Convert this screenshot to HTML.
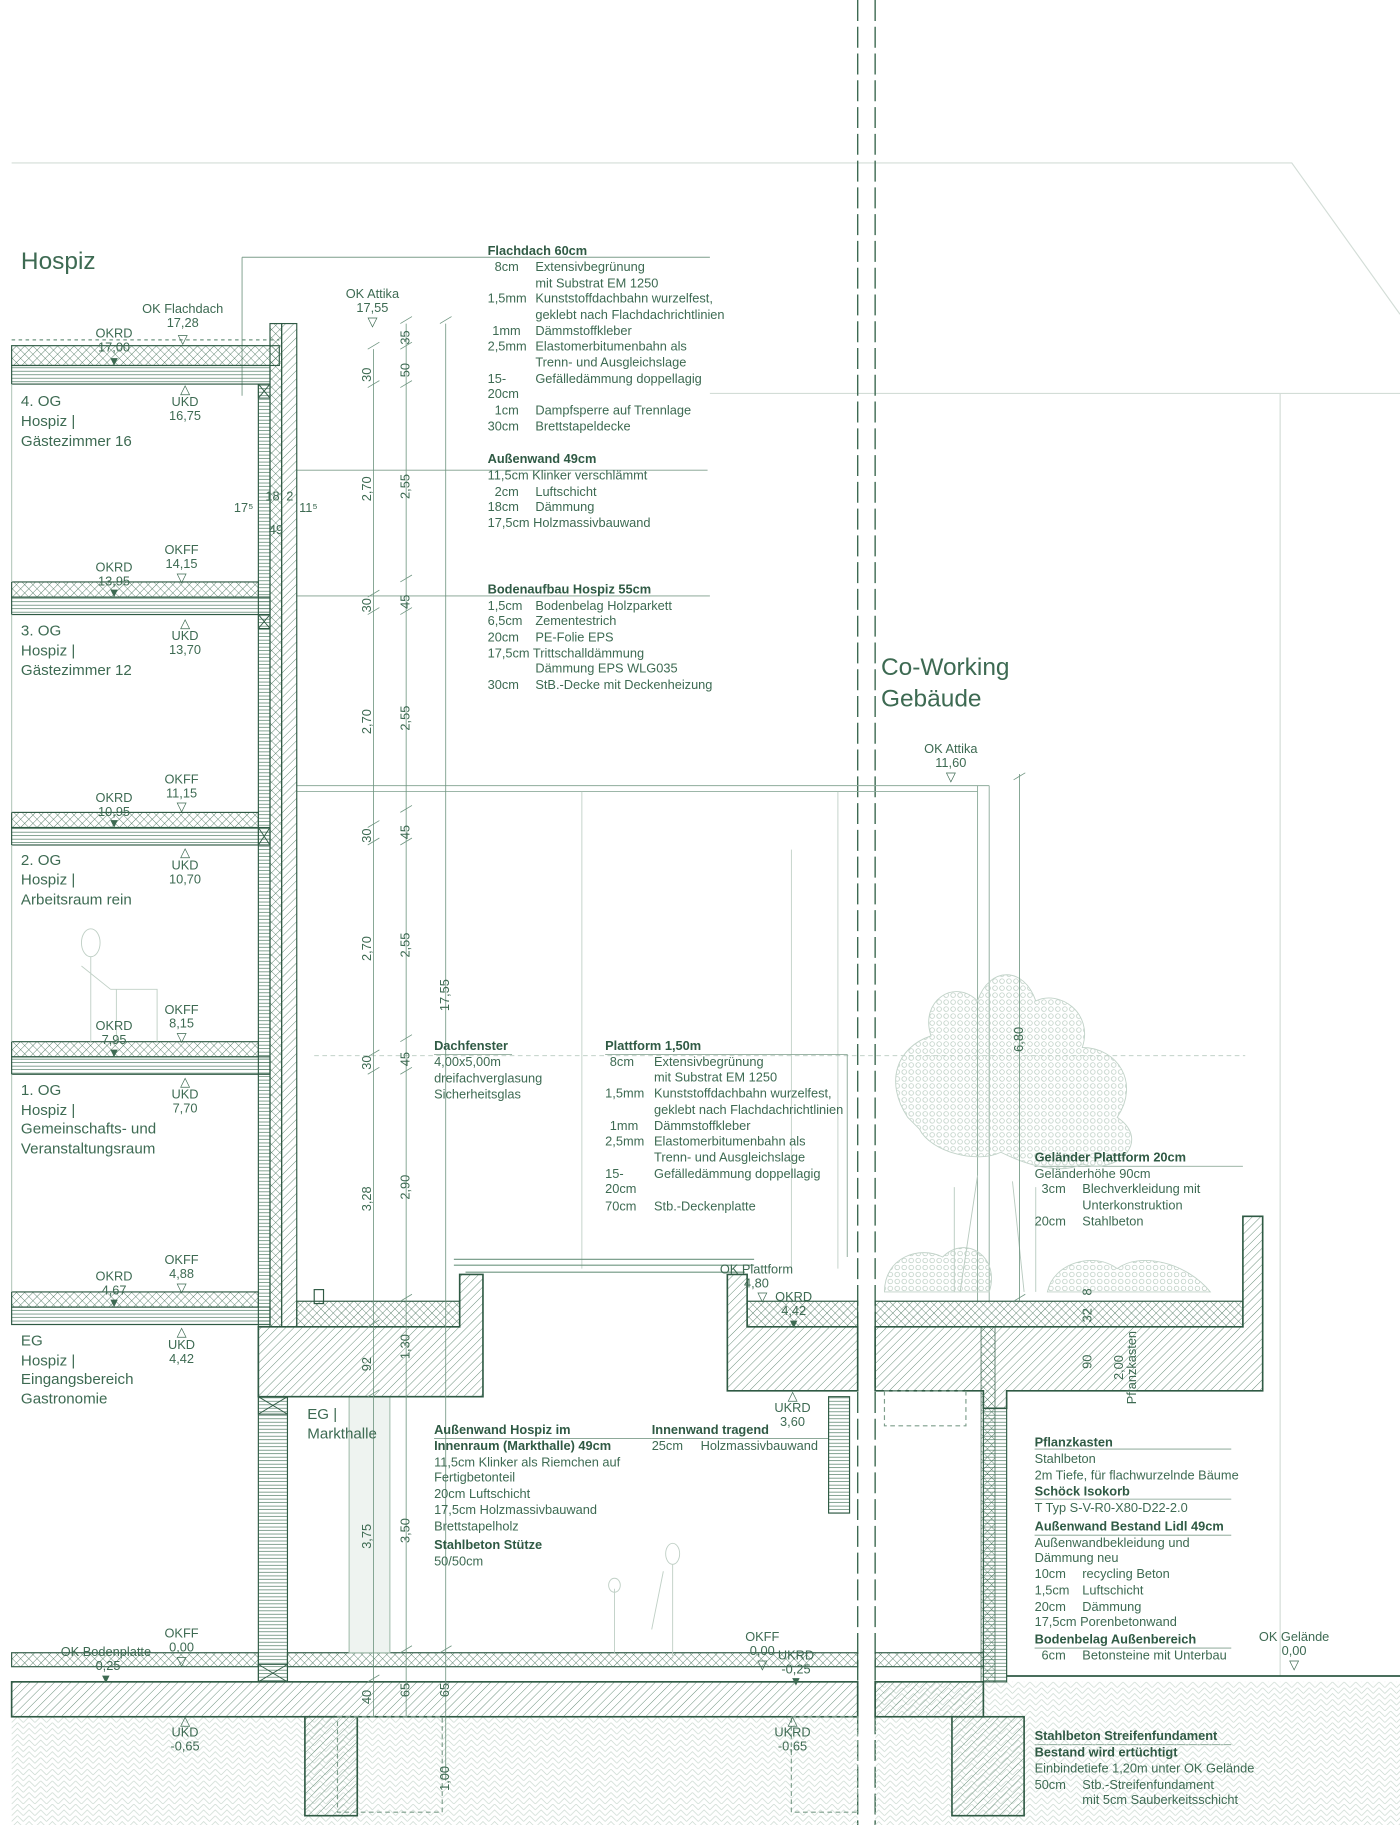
<!DOCTYPE html>
<html><head><meta charset="utf-8"><style>
html,body{margin:0;padding:0;background:#fff}
svg{display:block}
text{font-family:"Liberation Sans",sans-serif;fill:#3d6a52;font-size:11px}
.b{font-weight:bold;fill:#2f5a44}
.c{text-anchor:middle}
.big{font-size:21px;fill:#3d6a52}
.lvl{font-size:13px}
</style></head><body>
<svg width="1400" height="1825" viewBox="0 0 1203 1568" preserveAspectRatio="none" xmlns="http://www.w3.org/2000/svg">
<defs>
<pattern id="dg" width="5" height="5" patternUnits="userSpaceOnUse" patternTransform="rotate(45)"><line x1="0" y1="0" x2="0" y2="5" stroke="#4d7a62" stroke-width="0.7"/></pattern>
<pattern id="xh" width="5" height="5" patternUnits="userSpaceOnUse" patternTransform="rotate(45)"><path d="M0 0V5M0 0H5" stroke="#3d6a52" stroke-width="0.7"/></pattern>
<pattern id="hz" width="4" height="3" patternUnits="userSpaceOnUse"><line x1="0" y1="1" x2="4" y2="1" stroke="#4d7a62" stroke-width="0.6"/></pattern>
<pattern id="gr" width="10" height="10" patternUnits="userSpaceOnUse"><path d="M0 5L5 0L10 5M0 10L5 5L10 10" stroke="#c9d8cf" stroke-width="0.6" fill="none"/></pattern>
<pattern id="lf" width="6" height="6" patternUnits="userSpaceOnUse"><circle cx="3" cy="3" r="2" stroke="#b5c9bd" stroke-width="0.6" fill="none"/></pattern>
</defs>
<g fill="none" stroke="#2f5a44">
<path d="M10 140H1110L1203 270" stroke="#d3ddd7" stroke-width="1"/>
<path d="M610 338H1203M1100 338V1440" stroke="#d3ddd7"/>
<path d="M737 0V1568M752 0V1568" stroke="#3d6a52" stroke-width="1.2" stroke-dasharray="18,5"/>
<path d="M208 221H610M208 221V340" stroke="#7d9d8b" stroke-width="0.8"/>
<path d="M255 404H608M255 512H610" stroke="#7d9d8b" stroke-width="0.8"/>
<path d="M255 675H850M255 680H840M840 675V1118M850 675V1118" stroke="#8fac9c" stroke-width="0.8"/>
<path d="M500 680V1090M680 730V1090M720 680V1090" stroke="#b9cbc0" stroke-width="0.7"/>
<path d="M270 907H1070" stroke="#b9cbc0" stroke-dasharray="4,3" stroke-width="0.7"/>
<path d="M373 906H440M520 906H728V1080M889 1002H1068M889 1245H1058M889 1288H1058M889 1319H1058M889 1416H1058M889 1499H1058M373 1236H560M560 1236H712" stroke="#7d9d8b" stroke-width="0.7"/>
<rect x="10" y="1475" width="727" height="93" fill="url(#gr)" stroke="none"/>
<rect x="752" y="1445" width="451" height="123" fill="url(#gr)" stroke="none"/>
<path d="M865 1440H1203" stroke-width="1.5"/>
<!-- tree -->
<g fill="url(#lf)" stroke="#c2d3c9" stroke-width="0.8">
<path d="M780 960C760 930 770 900 800 890C790 860 820 840 840 860C850 830 880 830 890 860C910 850 940 870 930 900C960 900 980 930 960 960C990 980 960 1010 930 1000C910 1010 880 1000 860 990C840 1000 800 990 790 970Z"/>
<path d="M760 1110C760 1080 790 1070 810 1080C830 1060 860 1080 850 1110Z"/>
<path d="M900 1110C905 1085 940 1075 960 1090C980 1075 1020 1085 1040 1110Z"/>
</g>
<path d="M820 1110V1020M825 1110L840 1010M890 1110V1020M880 1110L870 1015" stroke="#b9cbc0" stroke-width="0.8"/>
<g stroke-width="1">
<rect x="10" y="297" width="230" height="17" fill="url(#xh)"/>
<rect x="10" y="314" width="222" height="16" fill="url(#hz)"/>
<path d="M10 292H240" stroke="#6f9580" stroke-dasharray="3,3"/>
<rect x="10" y="500" width="212" height="13" fill="url(#xh)"/>
<rect x="10" y="513" width="222" height="15" fill="url(#hz)"/>
<rect x="10" y="698" width="212" height="13" fill="url(#xh)"/>
<rect x="10" y="711" width="222" height="15" fill="url(#hz)"/>
<rect x="10" y="895" width="212" height="13" fill="url(#xh)"/>
<rect x="10" y="908" width="222" height="15" fill="url(#hz)"/>
<rect x="10" y="1110" width="212" height="13" fill="url(#xh)"/>
<rect x="10" y="1123" width="222" height="15" fill="url(#hz)"/>
<rect x="222" y="330" width="10" height="810" fill="url(#hz)"/>
<rect x="232" y="278" width="10" height="862" fill="url(#xh)"/>
<rect x="242" y="278" width="13" height="862" fill="url(#dg)"/>
<path d="M222 330h10v12h-10zM222 330l10 12M232 330l-10 12M222 528h10v12h-10zM222 528l10 12M232 528l-10 12M222 711h10v15h-10zM222 711l10 15M232 711l-10 15" stroke-width="0.8"/>
<path d="M10 330V500M10 528V698M10 726V895M10 923V1110" stroke="#b9cbc0"/>
<rect x="247" y="1420" width="490" height="12" fill="url(#xh)"/>
<rect x="10" y="1420" width="212" height="12" fill="url(#xh)"/>
<rect x="10" y="1445" width="727" height="30" fill="url(#dg)" stroke-width="1.4"/>
<rect x="262" y="1475" width="45" height="85" fill="url(#dg)" stroke-width="1.4"/>
<rect x="290" y="1475" width="90" height="82" stroke="#7d9d8b" stroke-dasharray="4,3" fill="none"/>
<rect x="680" y="1475" width="57" height="82" stroke="#7d9d8b" stroke-dasharray="4,3" fill="none"/>
<rect x="222" y="1200" width="25" height="245" fill="url(#hz)"/>
<path d="M222 1200h25v15h-25zM222 1200l25 15M247 1200l-25 15M222 1430h25v15h-25zM222 1430l25 15M247 1430l-25 15" stroke-width="0.8"/>
<rect x="300" y="1200" width="35" height="220" fill="#eef3f0" stroke="#a9c2b3"/>
<rect x="712" y="1200" width="18" height="100" fill="url(#hz)"/>
<path d="M222 1140H395V1095H415V1200H222Z" fill="url(#dg)" stroke-width="1.4"/>
<rect x="255" y="1118" width="140" height="22" fill="url(#xh)"/>
<rect x="270" y="1108" width="8" height="12" fill="none"/>
<path d="M625 1095H642V1140H737V1195H625Z" fill="url(#dg)" stroke-width="1.4"/>
<rect x="642" y="1118" width="95" height="22" fill="url(#xh)"/>
<path d="M390 1082H648M390 1087H648M400 1093H640" stroke="#6f9580"/>
<path d="M752 1140H1068V1045H1085V1195H865V1210H845V1195H752Z" fill="url(#dg)" stroke-width="1.4"/>
<rect x="752" y="1118" width="316" height="22" fill="url(#xh)"/>
<rect x="843" y="1140" width="12" height="305" fill="url(#xh)" stroke-width="0.6"/>
<rect x="845" y="1210" width="20" height="235" fill="url(#hz)"/>
<rect x="752" y="1420" width="93" height="12" fill="url(#xh)"/>
<rect x="752" y="1445" width="93" height="30" fill="url(#dg)" stroke-width="1.4"/>
<rect x="818" y="1475" width="62" height="85" fill="url(#dg)" stroke-width="1.4"/>
<rect x="760" y="1195" width="70" height="30" stroke="#7d9d8b" stroke-dasharray="4,3"/>
</g>
<g stroke="#c0d0c6" fill="none" stroke-width="0.8"><ellipse cx="78" cy="810" rx="8" ry="12"/><path d="M78 822V895M70 830L95 850M95 850H135V895M100 850V895"/><ellipse cx="578" cy="1335" rx="6" ry="9"/><path d="M578 1344V1425M570 1350L560 1400M528 1365V1420"/><ellipse cx="528" cy="1362" rx="5" ry="6"/></g>
<g stroke="#6f9580" stroke-width="0.7">
<path d="M321 300V1475M349 278V1475M383 278V1530M876 665V1118"/>
<path d="M316 300l10-6M316 333l10-6M316 513l10-6M316 528l10-6M316 711l10-6M316 726l10-6M316 908l10-6M316 923l10-6M316 1140l10-6M316 1200l10-6M316 1445l10-6M344 278l10-6M344 300l10-6M344 333l10-6M344 500l10-6M344 528l10-6M344 698l10-6M344 726l10-6M344 895l10-6M344 923l10-6M344 1118l10-6M344 1420l10-6M378 278l10-6M378 1420l10-6M871 670l10-6M871 1118l10-6"/>
</g>
</g>
<text x="18" y="231" class="big">Hospiz</text>
<text x="757" y="580" class="big">Co-Working</text>
<text x="757" y="607" class="big">Gebäude</text>
<g>
<text x="419" y="219" class="b">Flachdach 60cm</text>
<text x="425" y="233">8cm</text><text x="460" y="233">Extensivbegrünung</text>
<text x="460" y="247">mit Substrat EM 1250</text>
<text x="419" y="260">1,5mm</text><text x="460" y="260">Kunststoffdachbahn wurzelfest,</text>
<text x="460" y="274">geklebt nach Flachdachrichtlinien</text>
<text x="423" y="288">1mm</text><text x="460" y="288">Dämmstoffkleber</text>
<text x="419" y="301">2,5mm</text><text x="460" y="301">Elastomerbitumenbahn als</text>
<text x="460" y="315">Trenn- und Ausgleichslage</text>
<text x="419" y="329">15-</text><text x="460" y="329">Gefälledämmung doppellagig</text>
<text x="419" y="342">20cm</text>
<text x="425" y="356">1cm</text><text x="460" y="356">Dampfsperre auf Trennlage</text>
<text x="419" y="370">30cm</text><text x="460" y="370">Brettstapeldecke</text>
<text x="419" y="398" class="b">Außenwand 49cm</text>
<text x="419" y="412">11,5cm Klinker verschlämmt</text>
<text x="425" y="426">2cm</text><text x="460" y="426">Luftschicht</text>
<text x="419" y="439">18cm</text><text x="460" y="439">Dämmung</text>
<text x="419" y="453">17,5cm Holzmassivbauwand</text>
<text x="419" y="510" class="b">Bodenaufbau Hospiz 55cm</text>
<text x="419" y="524">1,5cm</text><text x="460" y="524">Bodenbelag Holzparkett</text>
<text x="419" y="537">6,5cm</text><text x="460" y="537">Zementestrich</text>
<text x="419" y="551">20cm</text><text x="460" y="551">PE-Folie EPS</text>
<text x="419" y="565">17,5cm Trittschalldämmung</text>
<text x="460" y="578">Dämmung EPS WLG035</text>
<text x="419" y="592">30cm</text><text x="460" y="592">StB.-Decke mit Deckenheizung</text>
<text x="373" y="902" class="b">Dachfenster</text>
<text x="373" y="916">4,00x5,00m</text>
<text x="373" y="930">dreifachverglasung</text>
<text x="373" y="944">Sicherheitsglas</text>
<text x="520" y="902" class="b">Plattform 1,50m</text>
<text x="524" y="916">8cm</text><text x="562" y="916">Extensivbegrünung</text>
<text x="562" y="929">mit Substrat EM 1250</text>
<text x="520" y="943">1,5mm</text><text x="562" y="943">Kunststoffdachbahn wurzelfest,</text>
<text x="562" y="957">geklebt nach Flachdachrichtlinien</text>
<text x="524" y="971">1mm</text><text x="562" y="971">Dämmstoffkleber</text>
<text x="520" y="984">2,5mm</text><text x="562" y="984">Elastomerbitumenbahn als</text>
<text x="562" y="998">Trenn- und Ausgleichslage</text>
<text x="520" y="1012">15-</text><text x="562" y="1012">Gefälledämmung doppellagig</text>
<text x="520" y="1025">20cm</text>
<text x="520" y="1040">70cm</text><text x="562" y="1040">Stb.-Deckenplatte</text>
<text x="889" y="998" class="b">Geländer Plattform 20cm</text>
<text x="889" y="1012">Geländerhöhe 90cm</text>
<text x="895" y="1025">3cm</text><text x="930" y="1025">Blechverkleidung mit</text>
<text x="930" y="1039">Unterkonstruktion</text>
<text x="889" y="1053">20cm</text><text x="930" y="1053">Stahlbeton</text>
<text x="889" y="1243" class="b">Pflanzkasten</text>
<text x="889" y="1257">Stahlbeton</text>
<text x="889" y="1271">2m Tiefe, für flachwurzelnde Bäume</text>
<text x="889" y="1285" class="b">Schöck Isokorb</text>
<text x="889" y="1299">T Typ S-V-R0-X80-D22-2.0</text>
<text x="889" y="1315" class="b">Außenwand Bestand Lidl 49cm</text>
<text x="889" y="1329">Außenwandbekleidung und</text>
<text x="889" y="1342">Dämmung neu</text>
<text x="889" y="1356">10cm</text><text x="930" y="1356">recycling Beton</text>
<text x="889" y="1370">1,5cm</text><text x="930" y="1370">Luftschicht</text>
<text x="889" y="1384">20cm</text><text x="930" y="1384">Dämmung</text>
<text x="889" y="1397">17,5cm Porenbetonwand</text>
<text x="889" y="1412" class="b">Bodenbelag Außenbereich</text>
<text x="895" y="1426">6cm</text><text x="930" y="1426">Betonsteine mit Unterbau</text>
<text x="889" y="1495" class="b">Stahlbeton Streifenfundament</text>
<text x="889" y="1509" class="b">Bestand wird ertüchtigt</text>
<text x="889" y="1523">Einbindetiefe 1,20m unter OK Gelände</text>
<text x="889" y="1537">50cm</text><text x="930" y="1537">Stb.-Streifenfundament</text>
<text x="930" y="1550">mit 5cm Sauberkeitsschicht</text>
<text x="373" y="1232" class="b">Außenwand Hospiz im</text>
<text x="373" y="1246" class="b">Innenraum (Markthalle) 49cm</text>
<text x="373" y="1260">11,5cm Klinker als Riemchen auf</text>
<text x="373" y="1273">Fertigbetonteil</text>
<text x="373" y="1287">20cm</text><text x="403" y="1287">Luftschicht</text>
<text x="373" y="1301">17,5cm Holzmassivbauwand</text>
<text x="373" y="1315">Brettstapelholz</text>
<text x="373" y="1331" class="b">Stahlbeton Stütze</text>
<text x="373" y="1345">50/50cm</text>
<text x="560" y="1232" class="b">Innenwand tragend</text>
<text x="560" y="1246">25cm</text><text x="602" y="1246">Holzmassivbauwand</text>
</g>
<g class="lvl">
<text x="18" y="349" class="lvl">4. OG</text><text x="18" y="366" class="lvl">Hospiz |</text><text x="18" y="383" class="lvl">Gästezimmer 16</text>
<text x="18" y="546" class="lvl">3. OG</text><text x="18" y="563" class="lvl">Hospiz |</text><text x="18" y="580" class="lvl">Gästezimmer 12</text>
<text x="18" y="743" class="lvl">2. OG</text><text x="18" y="760" class="lvl">Hospiz |</text><text x="18" y="777" class="lvl">Arbeitsraum rein</text>
<text x="18" y="941" class="lvl">1. OG</text><text x="18" y="958" class="lvl">Hospiz |</text><text x="18" y="974" class="lvl">Gemeinschafts- und</text><text x="18" y="991" class="lvl">Veranstaltungsraum</text>
<text x="18" y="1156" class="lvl">EG</text><text x="18" y="1173" class="lvl">Hospiz |</text><text x="18" y="1189" class="lvl">Eingangsbereich</text><text x="18" y="1206" class="lvl">Gastronomie</text>
<text x="264" y="1219" class="lvl">EG |</text><text x="264" y="1236" class="lvl">Markthalle</text>
</g>
<g class="c">
<text x="157" y="269" class="c">OK Flachdach</text><text x="157" y="281" class="c">17,28</text><text x="157" y="295" class="c">▽</text>
<text x="98" y="290" class="c">OKRD</text><text x="98" y="302" class="c">17,00</text><text x="98" y="314" class="c">▼</text>
<text x="159" y="338" class="c">△</text><text x="159" y="349" class="c">UKD</text><text x="159" y="361" class="c">16,75</text>
<text x="156" y="476" class="c">OKFF</text><text x="156" y="488" class="c">14,15</text><text x="156" y="500" class="c">▽</text>
<text x="98" y="491" class="c">OKRD</text><text x="98" y="503" class="c">13,95</text><text x="98" y="513" class="c">▼</text>
<text x="159" y="539" class="c">△</text><text x="159" y="550" class="c">UKD</text><text x="159" y="562" class="c">13,70</text>
<text x="156" y="673" class="c">OKFF</text><text x="156" y="685" class="c">11,15</text><text x="156" y="697" class="c">▽</text>
<text x="98" y="689" class="c">OKRD</text><text x="98" y="701" class="c">10,95</text><text x="98" y="711" class="c">▼</text>
<text x="159" y="736" class="c">△</text><text x="159" y="747" class="c">UKD</text><text x="159" y="759" class="c">10,70</text>
<text x="156" y="871" class="c">OKFF</text><text x="156" y="883" class="c">8,15</text><text x="156" y="895" class="c">▽</text>
<text x="98" y="885" class="c">OKRD</text><text x="98" y="897" class="c">7,95</text><text x="98" y="908" class="c">▼</text>
<text x="159" y="933" class="c">△</text><text x="159" y="944" class="c">UKD</text><text x="159" y="956" class="c">7,70</text>
<text x="156" y="1086" class="c">OKFF</text><text x="156" y="1098" class="c">4,88</text><text x="156" y="1110" class="c">▽</text>
<text x="98" y="1100" class="c">OKRD</text><text x="98" y="1112" class="c">4,67</text><text x="98" y="1123" class="c">▼</text>
<text x="156" y="1148" class="c">△</text><text x="156" y="1159" class="c">UKD</text><text x="156" y="1171" class="c">4,42</text>
<text x="156" y="1407" class="c">OKFF</text><text x="156" y="1419" class="c">0,00</text><text x="156" y="1431" class="c">▽</text>
<text x="91" y="1423" class="c">OK Bodenplatte</text><text x="91" y="1435" class="c">-0,25</text><text x="91" y="1446" class="c">▼</text>
<text x="159" y="1482" class="c">△</text><text x="159" y="1492" class="c">UKD</text><text x="159" y="1504" class="c">-0,65</text>
<text x="320" y="256" class="c">OK Attika</text><text x="320" y="268" class="c">17,55</text><text x="320" y="280" class="c">▽</text>
<text x="817" y="647" class="c">OK Attika</text><text x="817" y="659" class="c">11,60</text><text x="817" y="671" class="c">▽</text>
<text x="650" y="1094">OK Plattform</text><text x="650" y="1106">4,80</text><text x="655" y="1118">▽</text>
<text x="682" y="1118" class="c">OKRD</text><text x="682" y="1130" class="c">4,42</text><text x="682" y="1141" class="c">▼</text>
<text x="681" y="1203" class="c">△</text><text x="681" y="1213" class="c">UKRD</text><text x="681" y="1225" class="c">3,60</text>
<text x="655" y="1410" class="c">OKFF</text><text x="655" y="1422" class="c">0,00</text><text x="655" y="1434" class="c">▽</text>
<text x="684" y="1426" class="c">UKRD</text><text x="684" y="1438" class="c">-0,25</text><text x="684" y="1448" class="c">▼</text>
<text x="681" y="1482" class="c">△</text><text x="681" y="1492" class="c">UKRD</text><text x="681" y="1504" class="c">-0,65</text>
<text x="1112" y="1410" class="c">OK Gelände</text><text x="1112" y="1422" class="c">0,00</text><text x="1112" y="1434" class="c">▽</text>
</g>
<g>
<text transform="translate(319,322) rotate(-90)" class="c">30</text>
<text transform="translate(319,420) rotate(-90)" class="c">2,70</text>
<text transform="translate(319,520) rotate(-90)" class="c">30</text>
<text transform="translate(319,620) rotate(-90)" class="c">2,70</text>
<text transform="translate(319,718) rotate(-90)" class="c">30</text>
<text transform="translate(319,815) rotate(-90)" class="c">2,70</text>
<text transform="translate(319,913) rotate(-90)" class="c">30</text>
<text transform="translate(319,1030) rotate(-90)" class="c">3,28</text>
<text transform="translate(319,1172) rotate(-90)" class="c">92</text>
<text transform="translate(319,1320) rotate(-90)" class="c">3,75</text>
<text transform="translate(319,1458) rotate(-90)" class="c">40</text>
<text transform="translate(352,290) rotate(-90)" class="c">35</text>
<text transform="translate(352,318) rotate(-90)" class="c">50</text>
<text transform="translate(352,418) rotate(-90)" class="c">2,55</text>
<text transform="translate(352,517) rotate(-90)" class="c">45</text>
<text transform="translate(352,617) rotate(-90)" class="c">2,55</text>
<text transform="translate(352,715) rotate(-90)" class="c">45</text>
<text transform="translate(352,812) rotate(-90)" class="c">2,55</text>
<text transform="translate(352,910) rotate(-90)" class="c">45</text>
<text transform="translate(352,1020) rotate(-90)" class="c">2,90</text>
<text transform="translate(352,1157) rotate(-90)" class="c">1,30</text>
<text transform="translate(352,1315) rotate(-90)" class="c">3,50</text>
<text transform="translate(352,1452) rotate(-90)" class="c">65</text>
<text transform="translate(386,855) rotate(-90)" class="c">17,55</text>
<text transform="translate(386,1452) rotate(-90)" class="c">65</text>
<text transform="translate(386,1528) rotate(-90)" class="c">1,00</text>
<text transform="translate(879,893) rotate(-90)" class="c">6,80</text>
<text transform="translate(938,1130) rotate(-90)" class="c">32</text>
<text transform="translate(938,1110) rotate(-90)" class="c">8</text>
<text transform="translate(938,1170) rotate(-90)" class="c">90</text>
<text transform="translate(965,1175) rotate(-90)" class="c">2,00</text>
<text transform="translate(976,1175) rotate(-90)" class="c">Pflanzkasten</text>
<text x="201" y="440" font-size="10">17⁵</text><text x="228" y="430" font-size="10">18</text><text x="246" y="430" font-size="10">2</text><text x="257" y="440" font-size="10">11⁵</text><text x="231" y="459" font-size="10">49</text>
</g>
</svg>
</body></html>
